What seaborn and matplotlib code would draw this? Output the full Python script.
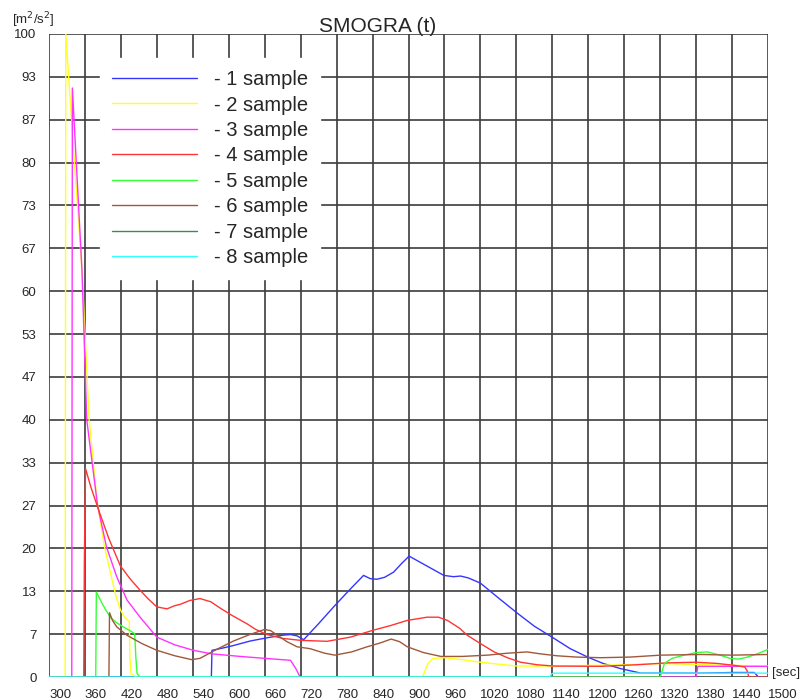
import numpy as np
import pandas as pd
import matplotlib
matplotlib.use('Agg')
import matplotlib.pyplot as plt
import seaborn as sns

#------------------------------------------------
samples=['- 1 sample', '- 2 sample', '- 3 sample', '- 4 sample',
         '- 5 sample', '- 6 sample', '- 7 sample', '- 8 sample']
colors=['#3535ff', '#ffff20', '#ff33ff', '#ff3535',
        '#35ff35', '#a0583a', '#3f8a4f', '#30ffff']

t1=[300, 571, 572, 590, 608, 636, 664, 690, 703, 714, 725, 750, 775, 800, 825, 836, 847,
    860, 875, 888, 901, 930, 959, 975, 987, 1000, 1020, 1050, 1082, 1110, 1143, 1170,
    1199, 1225, 1254, 1288, 1330, 1388, 1440, 1477, 1484, 1500]
v1=[0, 0, 4.15, 4.5, 4.9, 5.6, 6.1, 6.5, 6.6, 6.4, 5.8, 8.3, 10.9, 13.4, 15.8, 15.3, 15.2,
    15.5, 16.3, 17.6, 18.8, 17.3, 15.8, 15.6, 15.7, 15.4, 14.6, 12.3, 9.9, 7.9, 6.0, 4.4,
    3.1, 2.1, 1.3, 0.6, 0.6, 0.6, 0.7, 0.7, 0, 0]

t2=[300, 327, 328, 341, 355, 367, 380, 392, 403, 412, 419, 426, 434, 435, 437, 446,
    922, 925, 932, 940, 959, 990, 1020, 1050, 1081, 1142, 1200, 1260, 1321, 1400, 1500]
v2=[0, 0, 100, 82, 63.3, 40, 27.5, 20.5, 16, 12.5, 10.5, 9.3, 8.6, 3, 0.5, 0,
    0, 0.4, 2.0, 2.86, 3.0, 2.7, 2.3, 2.0, 1.7, 1.7, 1.8, 1.9, 2.1, 1.9, 1.7]

t3=[300, 338, 339, 355, 363, 381, 396, 413, 430, 452, 480, 510, 541, 572, 619, 660, 703,
    712, 719, 1380, 1383, 1500]
v3=[0, 0, 91.6, 63.3, 40, 26.7, 20.2, 15.6, 12, 9.3, 6.2, 5.0, 4.15, 3.6, 3.2, 2.9, 2.6,
    1.3, 0, 0, 1.66, 1.66]

t4=[300, 358, 359, 361, 370, 385, 400, 419, 435, 452, 465, 480, 497, 510, 519, 535, 552,
    570, 586, 605, 630, 645, 664, 690, 720, 764, 803, 842, 870, 898, 931, 950, 965, 985,
    998, 1020, 1043, 1065, 1087, 1115, 1143, 1221, 1280, 1333, 1380, 1416, 1445, 1461,
    1465, 1468, 1500]
v4=[0, 0, 18, 32.4, 29.5, 25.4, 21.5, 17.3, 15.3, 13.5, 12.2, 10.9, 10.6, 11.1, 11.3, 11.9,
    12.2, 11.7, 10.7, 9.6, 8.3, 7.4, 6.6, 6.0, 5.7, 5.55, 6.2, 7.3, 8.0, 8.8, 9.3, 9.3, 8.8,
    7.6, 6.5, 5.2, 3.9, 3.0, 2.3, 1.9, 1.7, 1.66, 1.9, 2.2, 2.3, 2.1, 1.8, 1.56,
    1.0, 0, 0]

t5=[300, 378, 379, 390, 402, 412, 424, 435, 443, 445, 447, 452, 1320, 1322, 1327, 1340,
    1360, 1380, 1399, 1420, 1438, 1452, 1466, 1485, 1500]
v5=[0, 0, 13.2, 11.2, 9.3, 8.5, 7.8, 7.2, 6.75, 3, 0.5, 0, 0, 0.5, 2.1, 2.9,
    3.4, 3.8, 3.9, 3.4, 2.86, 2.8, 3.1, 3.7, 4.3]

t6=[300, 400, 401, 406, 413, 430, 455, 480, 510, 538, 552, 580, 608, 635, 660, 670, 681,
    697, 714, 736, 760, 777, 805, 831, 853, 871, 885, 898, 925, 954, 990, 1032, 1065,
    1098, 1120, 1148, 1180, 1221, 1270, 1321, 1388, 1440, 1500]
v6=[0, 0, 10.0, 8.8, 7.8, 6.5, 5.2, 4.15, 3.3, 2.7, 2.9, 4.3, 5.6, 6.6, 7.4, 7.2, 6.5,
    5.5, 4.7, 4.4, 3.7, 3.4, 3.9, 4.7, 5.3, 5.9, 5.5, 4.7, 3.8, 3.2, 3.2, 3.4, 3.7,
    3.9, 3.6, 3.3, 3.1, 3.0, 3.1, 3.4, 3.5, 3.4, 3.5]

t7=[300, 1500]
v7=[0, 0]

t8=[300, 1136, 1139, 1142, 1300, 1450, 1500]
v8=[0, 0, 0.5, 0.6, 0.6, 0.6, 0.6]

x_ticks=list(range(300, 1501, 60))
y_ticks=list(np.linspace(0, 100, 16))
y_labels=['0', '7', '13', '20', '27', '33', '40', '47', '53', '60',
          '67', '73', '80', '87', '93', '100']

##########################################################
l_t=[t1, t2, t3, t4, t5, t6, t7, t8]
l_v=[v1, v2, v3, v4, v5, v6, v7, v8]
df=pd.concat([pd.DataFrame({'t': t, 'v': v, 'sample': s})
              for t, v, s in zip(l_t, l_v, samples)], ignore_index=True)

sns.set_style('white')
plt.rcParams['font.family']=['Liberation Sans', 'DejaVu Sans']

fig=plt.figure(figsize=(8.01, 7.0), dpi=100)
ax=fig.add_axes([49/801, 23/700, 719/801, 643/700])

sns.lineplot(data=df, x='t', y='v', hue='sample', hue_order=samples, palette=colors,
             sort=False, estimator=None, lw=1.0, ax=ax)

#axes
ax.set_xlim(300, 1500)
ax.set_ylim(0, 100)
ax.set_xticks(x_ticks)
ax.set_xticklabels([str(x) for x in x_ticks], ha='left')
ax.set_yticks(y_ticks)
ax.set_yticklabels(y_labels)
ax.grid(True, color='#3c3c3c', lw=1.2)
ax.set_axisbelow(True)
for sp in ax.spines.values():
    sp.set_visible(False)
ax.tick_params(length=4, width=1, color='#3c3c3c', labelsize=9.5, pad=5)
ax.set_xlabel('')
ax.set_ylabel('')

#legend
h, l=ax.get_legend_handles_labels()
leg=ax.legend(h, l, loc='upper left', bbox_to_anchor=(51/719, 619/643), borderaxespad=0,
              frameon=True, facecolor='white', edgecolor='white', framealpha=1,
              fancybox=False, fontsize=14.5, handlelength=4.2, handletextpad=0.85,
              labelspacing=0.32, borderpad=0.6)

#texts
fig.text(378/801, 1-32/700, 'SMOGRA (t)', ha='center', va='baseline', fontsize=15)
fig.text(12/801, 1-24/700, '[m$^2$/s$^2$]', ha='left', va='baseline', fontsize=9.5)
fig.text(772/801, 1-673/700, '[sec]', ha='left', va='center', fontsize=9.5)

fig.savefig('out.png', dpi=100)
plt.close()
